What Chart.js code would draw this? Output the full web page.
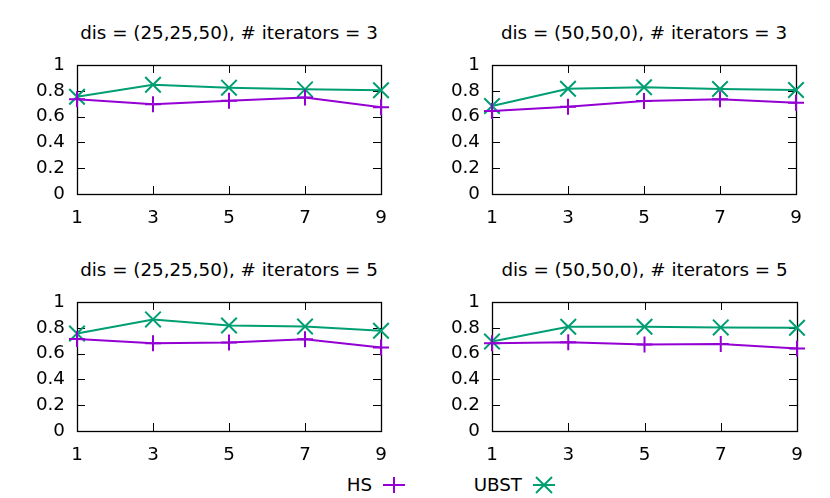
<!DOCTYPE html>
<html>
<head>
<meta charset="utf-8">
<script src="https://cdn.jsdelivr.net/npm/chart.js@4/dist/chart.umd.min.js"></script>
<style>
  html, body { margin: 0; padding: 0; background: #fff; }
  body { width: 830px; height: 498px; position: relative; overflow: hidden; font-family: "DejaVu Sans", sans-serif; }
  .title { position: absolute; font-size: 18.3px; line-height: 20px; text-align: center; color: #000; white-space: nowrap; }
  canvas { position: absolute; }
  .leg { position: absolute; font-size: 18.3px; line-height: 20px; color: #000; white-space: nowrap; }
  svg { position: absolute; }
</style>
</head>
<body>
<script>
// ---- data ----
const iterations = [1, 3, 5, 7, 9];
const yTickValues = [0, 0.2, 0.4, 0.6, 0.8, 1];
const seriesNames = ["HS", "UBST"];
const panelTitles = [
  "dis = (25,25,50), # iterators = 3",
  "dis = (50,50,0), # iterators = 3",
  "dis = (25,25,50), # iterators = 5",
  "dis = (50,50,0), # iterators = 5"
];
const hs_25_3   = [0.734, 0.695, 0.723, 0.747, 0.672];
const ubst_25_3 = [0.754, 0.847, 0.824, 0.811, 0.804];
const hs_50_3   = [0.643, 0.677, 0.721, 0.734, 0.708];
const ubst_50_3 = [0.682, 0.816, 0.827, 0.814, 0.806];
const hs_25_5   = [0.714, 0.681, 0.686, 0.712, 0.647];
const ubst_25_5 = [0.756, 0.865, 0.818, 0.810, 0.777];
const hs_50_5   = [0.681, 0.688, 0.670, 0.675, 0.639];
const ubst_50_5 = [0.694, 0.808, 0.808, 0.803, 0.800];

// ---- styling / layout ----
const HS_COLOR = "#9400d3";
const UBST_COLOR = "#009e73";
const FONT = { family: "DejaVu Sans", size: 18.3 };
const Y_AXIS_W = 60, X_AXIS_H = 40, PAD_TOP = 12, PAD_RIGHT = 25;
const plotRects = [
  { l: 77,  t: 65,  r: 381, b: 194 },
  { l: 492, t: 65,  r: 796, b: 194 },
  { l: 77,  t: 302, r: 381, b: 431 },
  { l: 492, t: 302, r: 797, b: 431 }
];
const panelData = [
  [hs_25_3, ubst_25_3],
  [hs_50_3, ubst_50_3],
  [hs_25_5, ubst_25_5],
  [hs_50_5, ubst_50_5]
];

const frameTicks = {
  id: "frameTicks",
  beforeDatasetsDraw(chart) {
    const { ctx, chartArea: a, scales } = chart;
    const L = 8;
    ctx.save();
    ctx.strokeStyle = "#000";
    ctx.lineWidth = 1;
    ctx.beginPath();
    scales.x.ticks.forEach(t => {
      const x = Math.round(scales.x.getPixelForValue(t.value)) + 0.5;
      ctx.moveTo(x, a.bottom); ctx.lineTo(x, a.bottom - L);
      ctx.moveTo(x, a.top); ctx.lineTo(x, a.top + L);
    });
    scales.y.ticks.forEach(t => {
      const y = Math.round(scales.y.getPixelForValue(t.value)) + 0.5;
      ctx.moveTo(a.left, y); ctx.lineTo(a.left + L, y);
      ctx.moveTo(a.right, y); ctx.lineTo(a.right - L, y);
    });
    ctx.stroke();
    ctx.lineWidth = 1.3;
    ctx.strokeRect(Math.round(a.left) + 0.5, Math.round(a.top) + 0.5,
                   Math.round(a.right - a.left), Math.round(a.bottom - a.top));
    ctx.restore();
  }
};

plotRects.forEach((p, i) => {
  const title = document.createElement("div");
  title.className = "title";
  title.textContent = panelTitles[i];
  title.style.left = p.l + "px";
  title.style.width = (p.r - p.l) + "px";
  title.style.top = (p.t - 42) + "px";
  document.body.appendChild(title);

  let W = (p.r - p.l) + Y_AXIS_W + PAD_RIGHT;
  let H = (p.b - p.t) + PAD_TOP + X_AXIS_H;
  let cx = p.l - Y_AXIS_W, cy = p.t - PAD_TOP;
  const cv = document.createElement("canvas");
  cv.width = W; cv.height = H;
  cv.style.width = W + "px"; cv.style.height = H + "px";
  cv.style.left = cx + "px";
  cv.style.top = cy + "px";
  document.body.appendChild(cv);

  const [hs, ubst] = panelData[i];
  const chart = new Chart(cv, {
    type: "line",
    data: {
      datasets: [
        {
          label: seriesNames[0],
          data: iterations.map((x, k) => ({ x, y: hs[k] })),
          borderColor: HS_COLOR, backgroundColor: HS_COLOR,
          borderWidth: 2, pointStyle: "cross", pointRadius: 8,
          pointBorderWidth: 2, pointBorderColor: HS_COLOR, tension: 0, clip: false
        },
        {
          label: seriesNames[1],
          data: iterations.map((x, k) => ({ x, y: ubst[k] })),
          borderColor: UBST_COLOR, backgroundColor: UBST_COLOR,
          borderWidth: 2, pointStyle: "crossRot", pointRadius: 11,
          pointBorderWidth: 2, pointBorderColor: UBST_COLOR, tension: 0, clip: false
        }
      ]
    },
    options: {
      responsive: false,
      maintainAspectRatio: false,
      animation: false,
      devicePixelRatio: 1,
      layout: { padding: { top: PAD_TOP, right: PAD_RIGHT, left: 0, bottom: 0 } },
      plugins: { legend: { display: false }, tooltip: { enabled: false }, title: { display: false } },
      scales: {
        x: {
          type: "linear", min: 1, max: 9,
          afterBuildTicks: s => { s.ticks = iterations.map(v => ({ value: v })); },
          afterFit: s => { s.height = X_AXIS_H; },
          grid: { display: false, drawTicks: false },
          border: { display: false },
          ticks: { color: "#000", font: FONT, padding: 13, maxRotation: 0, autoSkip: false,
                   callback: v => String(v) }
        },
        y: {
          type: "linear", min: 0, max: 1,
          afterBuildTicks: s => { s.ticks = yTickValues.map(v => ({ value: v })); },
          afterFit: s => { s.width = Y_AXIS_W; },
          grid: { display: false, drawTicks: false },
          border: { display: false },
          ticks: { color: "#000", font: FONT, padding: 12, autoSkip: false,
                   callback: v => String(Math.round(v * 10) / 10) }
        }
      }
    },
    plugins: [frameTicks]
  });

  // align the chart area with the target plot rectangle
  for (let it = 0; it < 4; it++) {
    const a = chart.chartArea;
    cx += p.l - (cx + a.left);
    cy += p.t - (cy + a.top);
    W += (p.r - p.l) - (a.right - a.left);
    H += (p.b - p.t) - (a.bottom - a.top);
    cv.style.left = cx + "px";
    cv.style.top = cy + "px";
    chart.resize(W, H);
  }
});

// ---- legend (key) ----
function addLegend(text, textRight, sampleCenter, color, kind) {
  const d = document.createElement("div");
  d.className = "leg";
  d.textContent = text;
  d.style.right = (830 - textRight) + "px";
  d.style.top = "475px";
  document.body.appendChild(d);
  const ns = "http://www.w3.org/2000/svg";
  const s = document.createElementNS(ns, "svg");
  s.setAttribute("width", "30"); s.setAttribute("height", "24");
  s.style.left = (sampleCenter - 15) + "px";
  s.style.top = (485 - 12) + "px";
  const path = document.createElementNS(ns, "path");
  let dstr = "M4 12 H26 ";
  if (kind === "plus") dstr += "M15 4 V20";
  else dstr += "M7 4 L23 20 M23 4 L7 20";
  path.setAttribute("d", dstr);
  path.setAttribute("stroke", color);
  path.setAttribute("stroke-width", "2");
  path.setAttribute("fill", "none");
  s.appendChild(path);
  document.body.appendChild(s);
}
addLegend(seriesNames[0], 372, 394, HS_COLOR, "plus");
addLegend(seriesNames[1], 522, 544, UBST_COLOR, "x");
</script>
</body>
</html>
